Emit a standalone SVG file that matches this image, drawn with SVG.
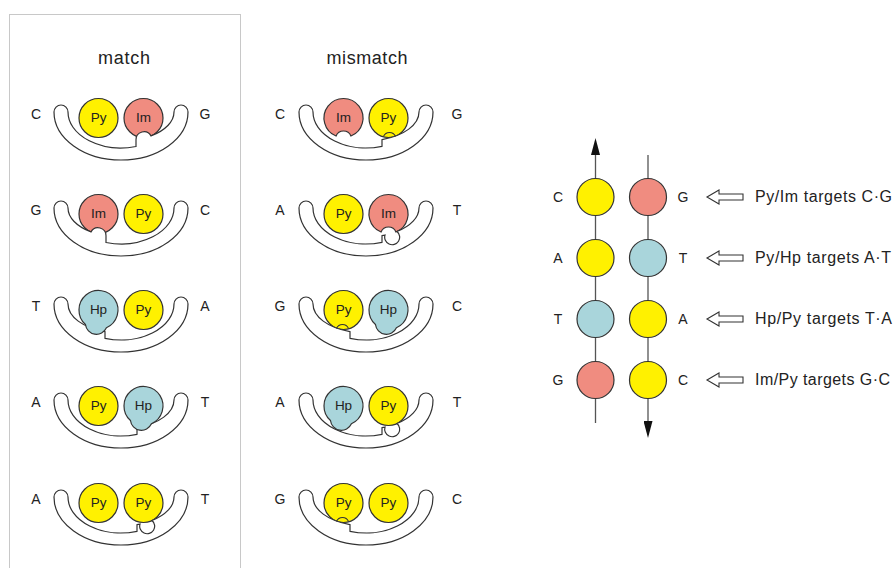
<svg xmlns="http://www.w3.org/2000/svg" width="895" height="568" viewBox="0 0 895 568">
<defs>
<style>
.py{fill:#FFF100;stroke:#333;stroke-width:1.2}
.im{fill:#F08C80;stroke:#333;stroke-width:1.2}
.hp{fill:#A9D5DB;stroke:#333;stroke-width:1.2}
.band{fill:#fff;stroke:#333;stroke-width:1.2}
.clash{fill:none;stroke:#333;stroke-width:1.1}
text{font-family:"Liberation Sans",Arial,sans-serif;fill:#222}
.lbl{font-size:14px;text-anchor:middle}
.in{font-size:13.5px;text-anchor:middle}
.title{font-size:18px;text-anchor:middle}
.tgt{font-size:16px}
.strand{stroke:#555;stroke-width:1.3;fill:none}
.harrow{fill:#fff;stroke:#333;stroke-width:1.1}
</style>
<marker id="ah" viewBox="0 0 17 9" markerWidth="17" markerHeight="9" refX="0" refY="4.5" orient="auto" markerUnits="userSpaceOnUse">
<path d="M0,0 L17,4.5 L0,9 Z" fill="#111"/>
</marker>
<path id="hpR" d="M7.93,17.81 A19.5,19.5 0 1 0 -13.03,14.51 A11,11 0 0 0 7.93,17.81 Z"/>
<path id="imB" d="M7.43,18.03 A19.5,19.5 0 1 0 -7.43,18.03 A8,8 0 0 1 7.43,18.03 Z"/>
</defs>
<rect x="9.5" y="14.5" width="231" height="570" fill="none" stroke="#c8c8c8" stroke-width="1"/>
<text class="title" x="124" y="64" textLength="52">match</text>
<text class="title" x="367" y="64" textLength="81">mismatch</text>

<!-- match column -->
<g id="match-CG" transform="translate(121,118)">
<circle class="py" cx="-22.5" cy="0" r="19.5"/>
<circle class="im" cx="22.5" cy="0" r="19.5"/>
<path class="band" d="M-53,-6 A7,7 0 0 0 -67,-6 A67,48 0 0 0 67,-6 A7,7 0 0 0 53,-6 A53,29 0 0 1 30,17.9 A8,8 0 0 0 15,21.8 L15,28.53 A53,36 0 0 1 -53,-6 Z"/>
<text class="in" x="-22.5" y="4">Py</text><text class="in" x="22.5" y="4">Im</text>
<text class="lbl" x="-85" y="1">C</text><text class="lbl" x="84" y="1">G</text>
</g>
<g id="match-GC" transform="translate(121,214)">
<circle class="im" cx="-22.5" cy="0" r="19.5"/>
<circle class="py" cx="22.5" cy="0" r="19.5"/>
<path class="band" d="M-53,-6 A7,7 0 0 0 -67,-6 A67,48 0 0 0 67,-6 A7,7 0 0 0 53,-6 A53,36 0 0 1 -15,28.53 L-15,21.8 A8,8 0 0 0 -30,17.9 A53,29 0 0 1 -53,-6 Z"/>
<text class="in" x="-22.5" y="4">Im</text><text class="in" x="22.5" y="4">Py</text>
<text class="lbl" x="-85" y="1">G</text><text class="lbl" x="84" y="1">C</text>
</g>
<g id="match-TA" transform="translate(121,310)">
<circle class="py" cx="22.5" cy="0" r="19.5"/>
<path class="band" d="M-53,-6 A7,7 0 0 0 -67,-6 A67,48 0 0 0 67,-6 A7,7 0 0 0 53,-6 A53,36 0 0 1 -16,28.32 L-16,21.65 A53,29 0 0 1 -53,-6 Z"/>
<use href="#hpR" class="hp" x="-22.5" y="0"/>
<text class="in" x="-22.5" y="4">Hp</text><text class="in" x="22.5" y="4">Py</text>
<text class="lbl" x="-85" y="1">T</text><text class="lbl" x="84" y="1">A</text>
</g>
<g id="match-AT" transform="translate(121,406)">
<circle class="py" cx="-22.5" cy="0" r="19.5"/>
<path class="band" d="M-53,-6 A7,7 0 0 0 -67,-6 A67,48 0 0 0 67,-6 A7,7 0 0 0 53,-6 A53,29 0 0 1 16,21.65 L16,28.32 A53,36 0 0 1 -53,-6 Z"/>
<use href="#hpR" class="hp" x="22.5" y="0"/>
<text class="in" x="-22.5" y="4">Py</text><text class="in" x="22.5" y="4">Hp</text>
<text class="lbl" x="-85" y="1">A</text><text class="lbl" x="84" y="1">T</text>
</g>
<g id="match-AT-pypy" transform="translate(121,503)">
<circle class="py" cx="-22.5" cy="0" r="19.5"/>
<circle class="py" cx="22.5" cy="0" r="19.5"/>
<path class="band" d="M-53,-6 A7,7 0 0 0 -67,-6 A67,48 0 0 0 67,-6 A7,7 0 0 0 53,-6 A53,29 0 0 1 31,17.5 A7.5,7.5 0 1 1 19,21.07 A53,29 0 0 1 16,21.65 L16,28.32 A53,36 0 0 1 -53,-6 Z"/>
<text class="in" x="-22.5" y="4">Py</text><text class="in" x="22.5" y="4">Py</text>
<text class="lbl" x="-85" y="1">A</text><text class="lbl" x="84" y="1">T</text>
</g>

<!-- mismatch column -->
<g id="mismatch-CG" transform="translate(366,118)">
<use href="#imB" class="im" x="-22.5" y="0"/>
<circle class="py" cx="22.5" cy="0" r="19.5"/>
<path class="band" d="M-53,-6 A7,7 0 0 0 -67,-6 A67,48 0 0 0 67,-6 A7,7 0 0 0 53,-6 A53,29 0 0 1 16,21.65 L16,28.32 A53,36 0 0 1 -53,-6 Z"/>
<path class="clash" d="M17.5,18.55 A6.5,6.5 0 0 1 29.5,18.55"/>
<text class="in" x="-22.5" y="4">Im</text><text class="in" x="22.5" y="4">Py</text>
<text class="lbl" x="-86" y="1">C</text><text class="lbl" x="91" y="1">G</text>
</g>
<g id="mismatch-AT-im" transform="translate(366,214)">
<circle class="py" cx="-22.5" cy="0" r="19.5"/>
<use href="#imB" class="im" x="22.5" y="0"/>
<path class="band" d="M-53,-6 A7,7 0 0 0 -67,-6 A67,48 0 0 0 67,-6 A7,7 0 0 0 53,-6 A53,29 0 0 1 31,17.5 A7.5,7.5 0 1 1 19,21.07 A53,29 0 0 1 16,21.65 L16,28.32 A53,36 0 0 1 -53,-6 Z"/>
<text class="in" x="-22.5" y="4">Py</text><text class="in" x="22.5" y="4">Im</text>
<text class="lbl" x="-86" y="1">A</text><text class="lbl" x="91" y="1">T</text>
</g>
<g id="mismatch-GC-hp" transform="translate(366,310)">
<circle class="py" cx="-22.5" cy="0" r="19.5"/>
<path class="band" d="M-53,-6 A7,7 0 0 0 -67,-6 A67,48 0 0 0 67,-6 A7,7 0 0 0 53,-6 A53,36 0 0 1 -16,28.32 L-16,21.65 A53,29 0 0 1 -53,-6 Z"/>
<use href="#hpR" class="hp" x="22.5" y="0"/>
<path class="clash" d="M-29.5,18.55 A6.5,6.5 0 0 1 -17.5,18.55"/>
<text class="in" x="-22.5" y="4">Py</text><text class="in" x="22.5" y="4">Hp</text>
<text class="lbl" x="-86" y="1">G</text><text class="lbl" x="91" y="1">C</text>
</g>
<g id="mismatch-AT-hp" transform="translate(366,406)">
<circle class="py" cx="22.5" cy="0" r="19.5"/>
<path class="band" d="M-53,-6 A7,7 0 0 0 -67,-6 A67,48 0 0 0 67,-6 A7,7 0 0 0 53,-6 A53,29 0 0 1 31,17.5 A7.5,7.5 0 1 1 19,21.07 A53,29 0 0 1 16,21.65 L16,28.32 A53,36 0 0 1 -53,-6 Z"/>
<use href="#hpR" class="hp" x="-22.5" y="0"/>
<text class="in" x="-22.5" y="4">Hp</text><text class="in" x="22.5" y="4">Py</text>
<text class="lbl" x="-86" y="1">A</text><text class="lbl" x="91" y="1">T</text>
</g>
<g id="mismatch-GC-pypy" transform="translate(366,503)">
<circle class="py" cx="-22.5" cy="0" r="19.5"/>
<circle class="py" cx="22.5" cy="0" r="19.5"/>
<path class="band" d="M-53,-6 A7,7 0 0 0 -67,-6 A67,48 0 0 0 67,-6 A7,7 0 0 0 53,-6 A53,36 0 0 1 -16,28.32 L-16,21.65 A53,29 0 0 1 -53,-6 Z"/>
<path class="clash" d="M-29.5,18.55 A6.5,6.5 0 0 1 -17.5,18.55"/>
<text class="in" x="-22.5" y="4">Py</text><text class="in" x="22.5" y="4">Py</text>
<text class="lbl" x="-86" y="1">G</text><text class="lbl" x="91" y="1">C</text>
</g>

<!-- right panel connectors -->
<g id="connectors">
<line class="strand" x1="595.5" y1="423" x2="595.5" y2="155" marker-end="url(#ah)"/>
<line class="strand" x1="648" y1="155" x2="648" y2="421" marker-end="url(#ah)"/>
<path class="harrow" d="M707,197 L719,190 L719,194 L743,194 L743,200 L719,200 L719,204 Z"/>
<path class="harrow" d="M707,258 L719,251 L719,255 L743,255 L743,261 L719,261 L719,265 Z"/>
<path class="harrow" d="M707,319 L719,312 L719,316 L743,316 L743,322 L719,322 L719,326 Z"/>
<path class="harrow" d="M707,380 L719,373 L719,377 L743,377 L743,383 L719,383 L719,387 Z"/>
</g>

<g id="pair-CG">
<circle class="py" cx="595.5" cy="197" r="18.5"/>
<circle class="im" cx="648" cy="197" r="18.5"/>
<text class="lbl" x="558" y="202">C</text><text class="lbl" x="683" y="202">G</text>
<text class="tgt" x="755" y="202" textLength="137" lengthAdjust="spacing">Py/Im targets C·G</text>
</g>
<g id="pair-AT">
<circle class="py" cx="595.5" cy="258" r="18.5"/>
<circle class="hp" cx="648" cy="258" r="18.5"/>
<text class="lbl" x="558" y="263">A</text><text class="lbl" x="683" y="263">T</text>
<text class="tgt" x="755" y="263" textLength="136" lengthAdjust="spacing">Py/Hp targets A·T</text>
</g>
<g id="pair-TA">
<circle class="hp" cx="595.5" cy="319" r="18.5"/>
<circle class="py" cx="648" cy="319" r="18.5"/>
<text class="lbl" x="558" y="324">T</text><text class="lbl" x="683" y="324">A</text>
<text class="tgt" x="755" y="324" textLength="137" lengthAdjust="spacing">Hp/Py targets T·A</text>
</g>
<g id="pair-GC">
<circle class="im" cx="595.5" cy="380" r="18.5"/>
<circle class="py" cx="648" cy="380" r="18.5"/>
<text class="lbl" x="558" y="385">G</text><text class="lbl" x="683" y="385">C</text>
<text class="tgt" x="755" y="385" textLength="135" lengthAdjust="spacing">Im/Py targets G·C</text>
</g>
</svg>
